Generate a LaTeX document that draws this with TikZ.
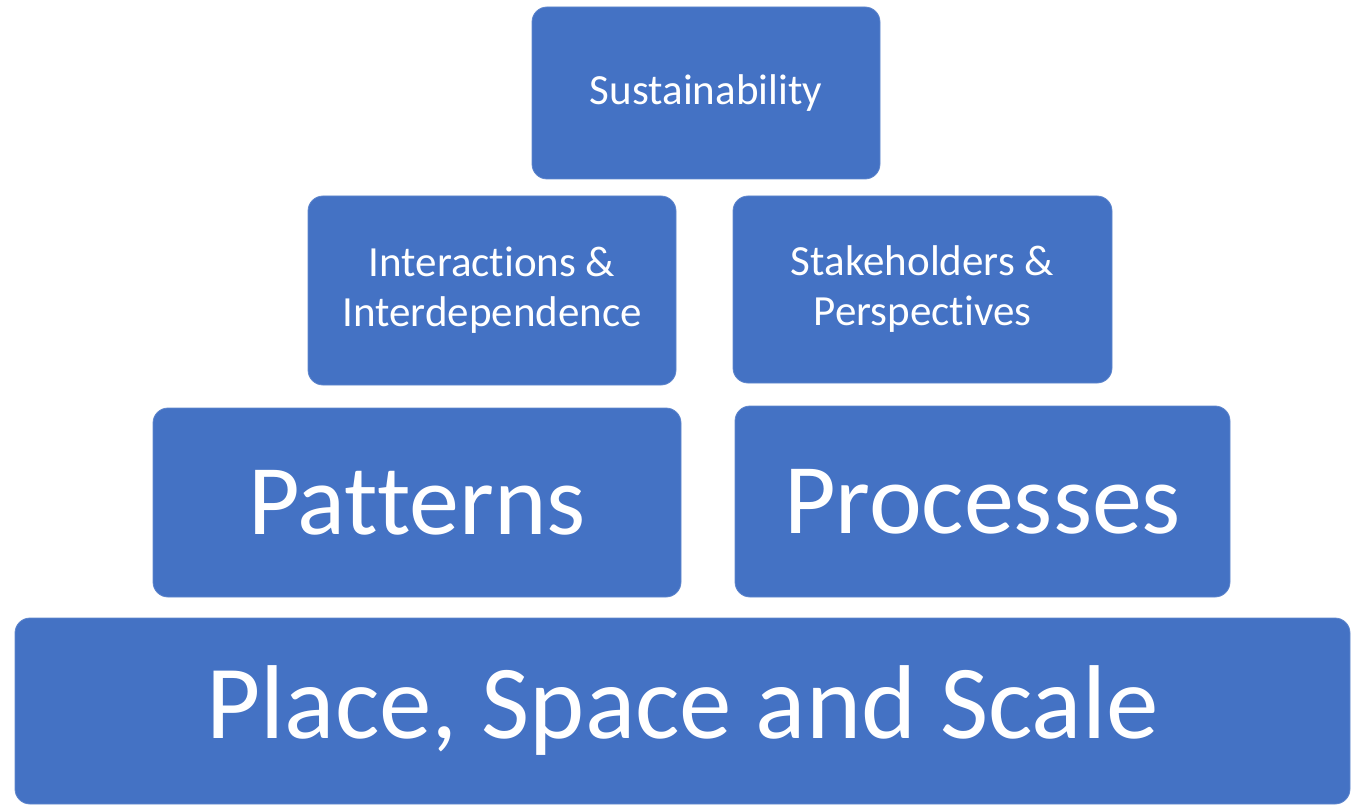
\documentclass[tikz,border=0pt]{standalone}
\usepackage{fontspec}
\setmainfont{Carlito}[Ligatures=NoCommon]
\definecolor{boxblue}{HTML}{4472C4}
\begin{document}
\begin{tikzpicture}[x=1pt,y=-1pt,
  box/.style={fill=boxblue, draw=boxblue!85!white, line width=0.8pt, rounded corners=15pt, inner sep=0pt, text=white, align=center, font=\fontsize{43}{50}\selectfont},
  big/.style={font=\fontsize{100}{110}\selectfont},
  huge/.style={font=\fontsize{105}{115}\selectfont}]
\useasboundingbox (0,0) rectangle (1352,805);
\node[box, minimum width=348pt, minimum height=172pt] (sus) at (706,93) {Sustainability};
\node[box, minimum width=368pt, minimum height=189pt] (inter) at (492,290.5) {Interactions \&\\Interdependence};
\node[box, minimum width=379pt, minimum height=187pt] (stake) at (922.5,289.5) {Stakeholders \&\\Perspectives};
\node[box, big, minimum width=528pt, minimum height=189pt] (patt) at (417,502.5) {Patterns};
\node[box, big, minimum width=495pt, minimum height=191pt] (proc) at (982.5,501.5) {Processes};
\node[box, huge, minimum width=1335pt, minimum height=186pt] (place) at (682.5,711) {Place, Space and Scale};
\end{tikzpicture}
\end{document}
